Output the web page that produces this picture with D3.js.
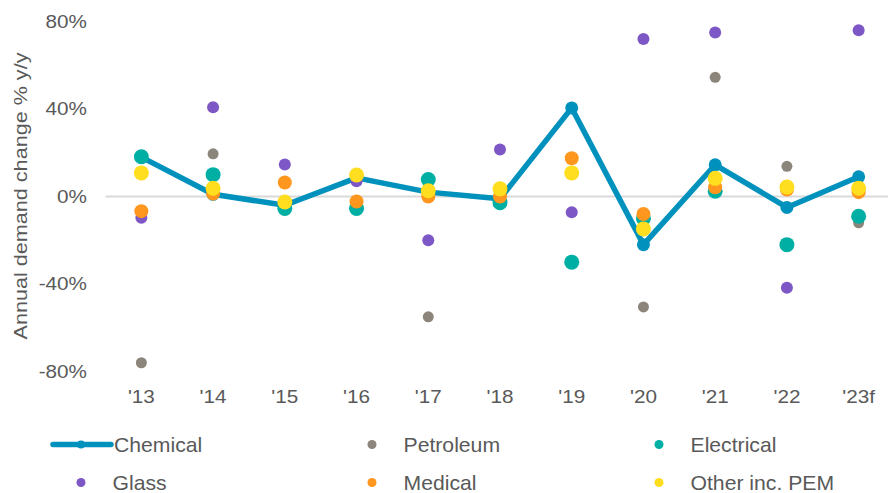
<!DOCTYPE html>
<html>
<head>
<meta charset="utf-8">
<script src="https://cdn.jsdelivr.net/npm/d3@7"></script>
<style>
  html, body { margin: 0; padding: 0; background: #fff; }
  svg { display: block; font-family: "Liberation Sans", Arial, sans-serif; }
</style>
</head>
<body>
<script>
const years = ["'13", "'14", "'15", "'16", "'17", "'18", "'19", "'20", "'21", "'22", "'23f"];
const yTicks = [-80, -40, 0, 40, 80];

const chemical   = [18, 1, -4, 8.5, 2, -1, 40.5, -22, 14.5, -5, 9];
const petroleum  = [-76, 19.5, -3, 7.3, -55, 0, 11, -50.5, 54.5, 13.8, -12];
const glass      = [-9.7, 40.8, 14.6, 7, -20, 21.5, -7.2, 72, 75, -41.7, 76];
const electrical = [18.2, 10, -5.5, -5.5, 7.8, -2.8, -30, -10, 2.4, -22, -9];
const medical    = [-6.7, 1.3, 6.4, -2.3, 0, 0, 17.5, -8, 4.2, 3.2, 2];
const other      = [10.8, 3.8, -2.5, 9.8, 2.6, 3.5, 10.8, -14.8, 8.3, 4.3, 3.8];

const scatter = [
  {name: "Petroleum", values: petroleum, color: "#8c857b", r: 5.5},
  {name: "Glass", values: glass, color: "#7e57c6", r: 6},
  {name: "Electrical", values: electrical, color: "#00afa3", r: 7.5},
  {name: "Medical", values: medical, color: "#ff961e", r: 7},
  {name: "Other inc. PEM", values: other, color: "#ffdd1f", r: 7.5}
];
const chemColor = "#0092bd";

const width = 888, height = 493;
const textColor = "#595959";

const svg = d3.select("body").append("svg")
    .attr("width", width)
    .attr("height", height);

const x = d3.scaleBand().domain(years).range([105.5, 894.5]);
const y = d3.scaleLinear().domain([-80, 80]).range([371.5, 21.5]);
const cx = d => x(d) + x.bandwidth() / 2;

// y tick labels
svg.append("g")
  .selectAll("text")
  .data(yTicks)
  .join("text")
    .attr("transform", d => `translate(87,${y(d)}) scale(1.15,1)`)
    .attr("text-anchor", "end")
    .attr("dy", "0.35em")
    .attr("font-size", 18)
    .attr("fill", textColor)
    .text(d => d + "%");

// x tick labels
svg.append("g")
  .selectAll("text")
  .data(years)
  .join("text")
    .attr("transform", d => `translate(${cx(d)},403) scale(1.15,1)`)
    .attr("text-anchor", "middle")
    .attr("font-size", 18)
    .attr("fill", textColor)
    .text(d => d);

// axis title
svg.append("text")
    .attr("transform", `translate(27,196) rotate(-90) scale(1.2,1)`)
    .attr("text-anchor", "middle")
    .attr("font-size", 18)
    .attr("fill", textColor)
    .text("Annual demand change % y/y");

// zero line
svg.append("line")
    .attr("x1", 105.5).attr("x2", width)
    .attr("y1", y(0)).attr("y2", y(0))
    .attr("stroke", "#d9d9d9")
    .attr("stroke-width", 2);

// chemical line
svg.append("path")
    .datum(chemical)
    .attr("fill", "none")
    .attr("stroke", chemColor)
    .attr("stroke-width", 5.5)
    .attr("stroke-linejoin", "round")
    .attr("d", d3.line().x((d, i) => cx(years[i])).y(d => y(d)));

svg.append("g")
  .selectAll("circle")
  .data(chemical)
  .join("circle")
    .attr("cx", (d, i) => cx(years[i]))
    .attr("cy", d => y(d))
    .attr("r", 6.5)
    .attr("fill", chemColor);

// scatter series
scatter.forEach(s => {
  svg.append("g")
    .selectAll("circle")
    .data(s.values)
    .join("circle")
      .attr("cx", (d, i) => cx(years[i]))
      .attr("cy", d => y(d))
      .attr("r", s.r)
      .attr("fill", s.color);
});

// legend
const legendItems = [
  {name: "Chemical", color: chemColor, line: true, col: 0, row: 0},
  {name: "Petroleum", color: scatter[0].color, col: 1, row: 0},
  {name: "Electrical", color: scatter[2].color, col: 2, row: 0},
  {name: "Glass", color: scatter[1].color, col: 0, row: 1},
  {name: "Medical", color: scatter[3].color, col: 1, row: 1},
  {name: "Other inc. PEM", color: scatter[4].color, col: 2, row: 1}
];
const colX = [81, 372, 659];
const rowY = [444.5, 482.5];

const legend = svg.append("g")
  .selectAll("g")
  .data(legendItems)
  .join("g")
    .attr("transform", d => `translate(${colX[d.col]},${rowY[d.row]})`);

legend.filter(d => d.line).append("line")
    .attr("x1", -28).attr("x2", 30)
    .attr("stroke", d => d.color)
    .attr("stroke-width", 5.5)
    .attr("stroke-linecap", "round");

legend.append("circle")
    .attr("r", d => d.line ? 4 : 4.5)
    .attr("fill", d => d.color);

legend.append("text")
    .attr("transform", d => `translate(${d.line ? 33 : 31.5},0) scale(1.06,1)`)
    .attr("dy", "0.35em")
    .attr("font-size", 20)
    .attr("fill", textColor)
    .text(d => d.name);
</script>
</body>
</html>
